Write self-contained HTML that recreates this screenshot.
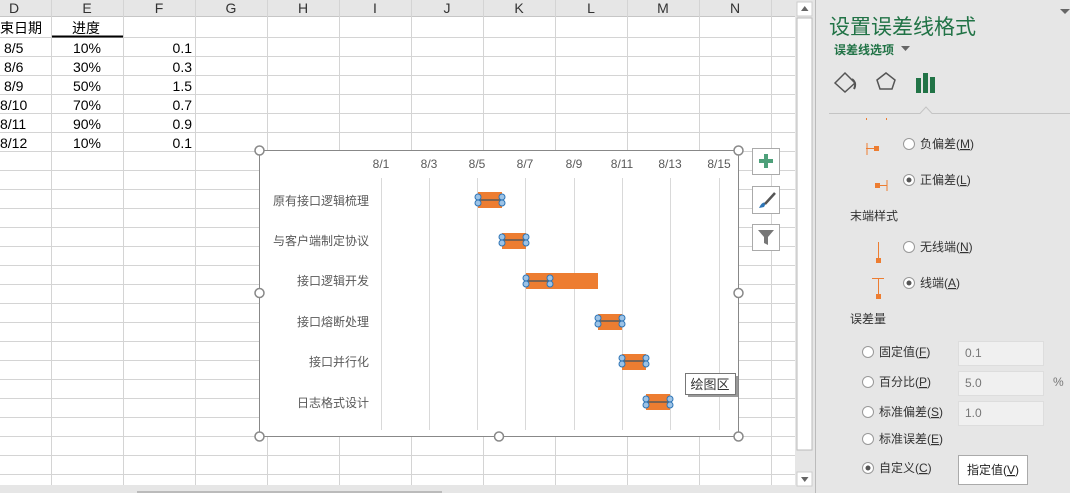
<!DOCTYPE html>
<html><head><meta charset="utf-8"><style>
body{margin:0;width:1070px;height:493px;overflow:hidden;background:#fff;font-family:"Liberation Sans","Noto Sans CJK SC",sans-serif;}
svg text{font-family:"Liberation Sans","Noto Sans CJK SC",sans-serif;}
</style></head><body>
<svg width="1070" height="493" viewBox="0 0 1070 493" xmlns="http://www.w3.org/2000/svg">
<rect width="1070" height="493" fill="#fff"/>
<!-- header row -->
<rect x="0" y="0" width="795" height="16" fill="#e6e6e6"/>
<line x1="0" y1="16.5" x2="795" y2="16.5" stroke="#c6c6c6"/>
<g stroke="#d4d4d4">
<line x1="51.5" y1="0" x2="51.5" y2="485"/><line x1="123.5" y1="0" x2="123.5" y2="485"/>
<line x1="195.5" y1="0" x2="195.5" y2="485"/><line x1="267.5" y1="0" x2="267.5" y2="485"/>
<line x1="339.5" y1="0" x2="339.5" y2="485"/><line x1="411.5" y1="0" x2="411.5" y2="485"/>
<line x1="483.5" y1="0" x2="483.5" y2="485"/><line x1="555.5" y1="0" x2="555.5" y2="485"/>
<line x1="627.5" y1="0" x2="627.5" y2="485"/><line x1="699.5" y1="0" x2="699.5" y2="485"/>
<line x1="771.5" y1="0" x2="771.5" y2="485"/>
<line x1="0" y1="37.5" x2="795" y2="37.5"/><line x1="0" y1="56.5" x2="795" y2="56.5"/>
<line x1="0" y1="75.5" x2="795" y2="75.5"/><line x1="0" y1="94.5" x2="795" y2="94.5"/>
<line x1="0" y1="113.5" x2="795" y2="113.5"/><line x1="0" y1="132.5" x2="795" y2="132.5"/>
<line x1="0" y1="151.5" x2="795" y2="151.5"/><line x1="0" y1="170.5" x2="795" y2="170.5"/>
<line x1="0" y1="189.5" x2="795" y2="189.5"/><line x1="0" y1="208.5" x2="795" y2="208.5"/>
<line x1="0" y1="227.5" x2="795" y2="227.5"/><line x1="0" y1="246.5" x2="795" y2="246.5"/>
<line x1="0" y1="265.5" x2="795" y2="265.5"/><line x1="0" y1="284.5" x2="795" y2="284.5"/>
<line x1="0" y1="303.5" x2="795" y2="303.5"/><line x1="0" y1="322.5" x2="795" y2="322.5"/>
<line x1="0" y1="341.5" x2="795" y2="341.5"/><line x1="0" y1="360.5" x2="795" y2="360.5"/>
<line x1="0" y1="379.5" x2="795" y2="379.5"/><line x1="0" y1="398.5" x2="795" y2="398.5"/>
<line x1="0" y1="417.5" x2="795" y2="417.5"/><line x1="0" y1="436.5" x2="795" y2="436.5"/>
<line x1="0" y1="455.5" x2="795" y2="455.5"/><line x1="0" y1="474.5" x2="795" y2="474.5"/>
</g>
<g font-size="14" fill="#333" text-anchor="middle">
<text x="14" y="13">D</text><text x="87" y="13">E</text><text x="159" y="13">F</text><text x="231" y="13">G</text><text x="303" y="13">H</text><text x="375" y="13">I</text><text x="447" y="13">J</text><text x="519" y="13">K</text><text x="591" y="13">L</text><text x="663" y="13">M</text><text x="735" y="13">N</text>
</g>
<g font-size="14" fill="#000">
<text x="0" y="33">束日期</text><text x="72" y="33">进度</text>
</g>
<line x1="52" y1="36.5" x2="123" y2="36.5" stroke="#000" stroke-width="2"/>
<g font-size="14" fill="#000">
<text x="4" y="53">8/5</text><text x="4" y="72">8/6</text><text x="4" y="91">8/9</text>
<text x="0" y="110">8/10</text><text x="0" y="129">8/11</text><text x="0" y="148">8/12</text>
</g>
<g font-size="14" fill="#000" text-anchor="middle">
<text x="87" y="53">10%</text><text x="87" y="72">30%</text><text x="87" y="91">50%</text><text x="87" y="110">70%</text><text x="87" y="129">90%</text><text x="87" y="148">10%</text>
</g>
<g font-size="14" fill="#000" text-anchor="end">
<text x="192" y="53">0.1</text><text x="192" y="72">0.3</text><text x="192" y="91">1.5</text><text x="192" y="110">0.7</text><text x="192" y="129">0.9</text><text x="192" y="148">0.1</text>
</g>
<!-- bottom strip -->
<rect x="0" y="485" width="812" height="8" fill="#e6e6e6"/>
<rect x="137" y="491" width="305" height="2" fill="#bbb"/>
<!-- scrollbar -->
<rect x="795" y="0" width="20" height="493" fill="#e6e6e6"/>
<rect x="797" y="18" width="15" height="432" fill="#fff" stroke="#bbb"/>
<rect x="797" y="2" width="15" height="14" fill="#fff" stroke="#ccc"/>
<path d="M801 11 L808.5 11 L804.75 6 Z" fill="#666"/>
<rect x="797" y="472" width="15" height="14" fill="#fff" stroke="#ccc"/>
<path d="M801 477 L808.5 477 L804.75 482 Z" fill="#666"/>
<!-- chart -->
<rect x="259.5" y="150.5" width="479" height="286" fill="#fff" stroke="#888"/>
<g stroke="#d9d9d9">
<line x1="381.5" y1="178" x2="381.5" y2="430"/><line x1="429.5" y1="178" x2="429.5" y2="430"/>
<line x1="477.5" y1="178" x2="477.5" y2="430"/><line x1="525.5" y1="178" x2="525.5" y2="430"/>
<line x1="574.5" y1="178" x2="574.5" y2="430"/><line x1="622.5" y1="178" x2="622.5" y2="430"/>
<line x1="670.5" y1="178" x2="670.5" y2="430"/><line x1="719.5" y1="178" x2="719.5" y2="430"/>
</g>
<g font-size="12" fill="#595959" text-anchor="middle">
<text x="381" y="168">8/1</text><text x="429" y="168">8/3</text><text x="477" y="168">8/5</text><text x="525" y="168">8/7</text><text x="574" y="168">8/9</text><text x="622" y="168">8/11</text><text x="670" y="168">8/13</text><text x="719" y="168">8/15</text>
</g>
<g font-size="12" fill="#595959" text-anchor="end">
<text x="369" y="205">原有接口逻辑梳理</text><text x="369" y="245">与客户端制定协议</text><text x="369" y="285">接口逻辑开发</text><text x="369" y="326">接口熔断处理</text><text x="369" y="366">接口并行化</text><text x="369" y="407">日志格式设计</text>
</g>
<g fill="#ed7d31">
<rect x="478" y="192" width="24" height="16"/><rect x="502" y="233" width="24" height="16"/>
<rect x="526" y="273" width="72" height="16"/><rect x="598" y="314" width="24" height="16"/>
<rect x="622" y="354" width="24" height="16"/><rect x="646" y="394" width="24" height="16"/>
</g>
<g stroke="#595959" stroke-width="1.5">
<line x1="478" y1="200" x2="502" y2="200"/><line x1="502" y1="240" x2="526" y2="240"/>
<line x1="526" y1="281" x2="550" y2="281"/><line x1="598" y1="321" x2="622" y2="321"/>
<line x1="622" y1="361" x2="646" y2="361"/><line x1="646" y1="402" x2="670" y2="402"/>
</g>
<g fill="#9dc3e6" stroke="#2e75b6" stroke-width="1">
<circle cx="478" cy="197" r="3"/><circle cx="478" cy="203" r="3"/><circle cx="502" cy="197" r="3"/><circle cx="502" cy="203" r="3"/>
<circle cx="502" cy="237" r="3"/><circle cx="502" cy="243" r="3"/><circle cx="526" cy="237" r="3"/><circle cx="526" cy="243" r="3"/>
<circle cx="526" cy="278" r="3"/><circle cx="526" cy="284" r="3"/><circle cx="550" cy="278" r="3"/><circle cx="550" cy="284" r="3"/>
<circle cx="598" cy="318" r="3"/><circle cx="598" cy="324" r="3"/><circle cx="622" cy="318" r="3"/><circle cx="622" cy="324" r="3"/>
<circle cx="622" cy="358" r="3"/><circle cx="622" cy="364" r="3"/><circle cx="646" cy="358" r="3"/><circle cx="646" cy="364" r="3"/>
<circle cx="646" cy="399" r="3"/><circle cx="646" cy="405" r="3"/><circle cx="670" cy="399" r="3"/><circle cx="670" cy="405" r="3"/>
</g>
<g fill="#fff" stroke="#888" stroke-width="1.5">
<circle cx="259.5" cy="150.5" r="4.5"/><circle cx="738.5" cy="150.5" r="4.5"/><circle cx="259.5" cy="436.5" r="4.5"/><circle cx="738.5" cy="436.5" r="4.5"/>
<circle cx="259.5" cy="293" r="4.5"/><circle cx="738.5" cy="293" r="4.5"/><circle cx="499" cy="436.5" r="4.5"/>
</g>
<!-- tooltip -->
<rect x="688" y="376" width="50" height="21" fill="#999"/>
<rect x="685.5" y="373.5" width="50" height="21" fill="#fff" stroke="#777"/>
<text x="710" y="389" font-size="13" fill="#333" text-anchor="middle">绘图区</text>
<!-- chart buttons -->
<g fill="#fff" stroke="#aaa">
<rect x="752.5" y="148.5" width="27" height="26"/><rect x="752.5" y="186.5" width="27" height="27"/><rect x="752.5" y="224.5" width="27" height="26"/>
</g>
<path d="M764 154 h4 v5 h5 v4 h-5 v5 h-4 v-5 h-5 v-4 h5 z" fill="#4ea07a"/>
<path d="M759 208 q3 -7 7 -5 l-2 4 z" fill="#2e75b6"/><line x1="765" y1="204" x2="775" y2="193" stroke="#555" stroke-width="2.5"/>
<path d="M758 230 h16 l-6 7 v8 l-4 -2 v-6 z" fill="#777"/>
<!-- right panel -->
<rect x="815" y="0" width="255" height="493" fill="#e6e6e6"/>
<line x1="815.5" y1="0" x2="815.5" y2="493" stroke="#bbb"/>
<text x="829" y="34" font-size="21" fill="#217346">设置误差线格式</text>
<path d="M1060 9 h10 l-5 5 z" fill="#666"/>
<text x="834" y="54" font-size="12" font-weight="bold" fill="#217346">误差线选项</text>
<path d="M901 46 h9 l-4.5 5 z" fill="#666"/>
<path d="M835 83 l10 -10 l10 10 l-10 9 z" fill="none" stroke="#555" stroke-width="1.5"/>
<path d="M852 79 q5 4 2 10" fill="none" stroke="#555" stroke-width="2"/>
<path d="M877 80 l9 -7 l9 7 l-3 9 h-12 z" fill="none" stroke="#555" stroke-width="1.5"/>
<rect x="916" y="78" width="5" height="15" fill="#217346"/><rect x="923" y="73" width="5" height="20" fill="#217346"/><rect x="930" y="77" width="5" height="16" fill="#217346"/>
<path d="M829 113.5 H920 L926 107 L932 113.5 H1070" fill="none" stroke="#c4c4c4"/>
<g fill="#ed7d31">
<rect x="866" y="118" width="1" height="2"/><rect x="886" y="118" width="1" height="2"/>
<rect x="874" y="146" width="5" height="5"/><rect x="866.5" y="143" width="1" height="12"/><rect x="866" y="148" width="8" height="1"/>
<rect x="875" y="183" width="5" height="5"/><rect x="880" y="185" width="7" height="1"/><rect x="886.5" y="180" width="1" height="11"/>
<rect x="876" y="258" width="5" height="5"/><rect x="878" y="242" width="1" height="16"/>
<rect x="876" y="294" width="5" height="5"/><rect x="878" y="278" width="1" height="16"/><rect x="872" y="278" width="12" height="1"/>
</g>
<g fill="#fff" stroke="#999">
<circle cx="909" cy="144" r="5.5"/><circle cx="909" cy="180" r="5.5"/><circle cx="909" cy="247" r="5.5"/><circle cx="909" cy="283" r="5.5"/>
<circle cx="868" cy="352" r="5.5"/><circle cx="868" cy="382" r="5.5"/><circle cx="868" cy="412" r="5.5"/><circle cx="868" cy="439" r="5.5"/><circle cx="868" cy="468" r="5.5"/>
</g>
<g fill="#555"><circle cx="909" cy="180" r="2.5"/><circle cx="909" cy="283" r="2.5"/><circle cx="868" cy="468" r="2.5"/></g>
<g font-size="12" fill="#333">
<text x="920" y="148">负偏差(<tspan text-decoration="underline">M</tspan>)</text>
<text x="920" y="184">正偏差(<tspan text-decoration="underline">L</tspan>)</text>
<text x="850" y="220">末端样式</text>
<text x="920" y="251">无线端(<tspan text-decoration="underline">N</tspan>)</text>
<text x="920" y="287">线端(<tspan text-decoration="underline">A</tspan>)</text>
<text x="850" y="323">误差量</text>
<text x="879" y="356">固定值(<tspan text-decoration="underline">F</tspan>)</text>
<text x="879" y="386">百分比(<tspan text-decoration="underline">P</tspan>)</text>
<text x="879" y="416">标准偏差(<tspan text-decoration="underline">S</tspan>)</text>
<text x="879" y="443">标准误差(<tspan text-decoration="underline">E</tspan>)</text>
<text x="879" y="472">自定义(<tspan text-decoration="underline">C</tspan>)</text>
</g>
<g fill="#f0f0f0" stroke="#ddd">
<rect x="958.5" y="341.5" width="85" height="24"/><rect x="958.5" y="371.5" width="85" height="24"/><rect x="958.5" y="401.5" width="85" height="24"/>
</g>
<g font-size="12" fill="#777">
<text x="965" y="357">0.1</text><text x="965" y="387">5.0</text><text x="965" y="417">1.0</text><text x="1053" y="386">%</text>
</g>
<rect x="958.5" y="455.5" width="69" height="29" fill="#fff" stroke="#aaa"/>
<text x="993" y="474" font-size="12" fill="#222" text-anchor="middle">指定值(<tspan text-decoration="underline">V</tspan>)</text>
</svg>
</body></html>
